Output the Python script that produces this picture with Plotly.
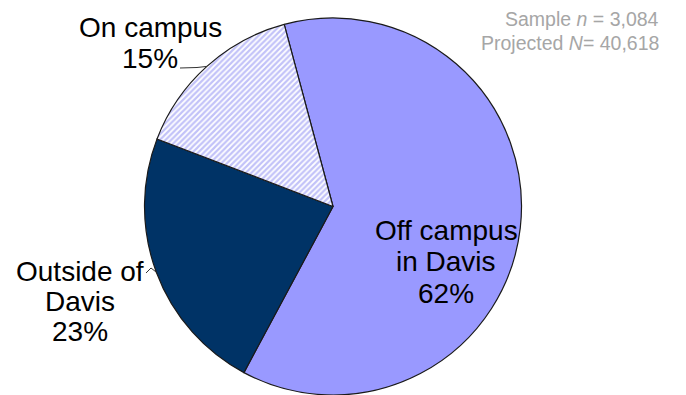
import math
import plotly.graph_objects as go

# Where students live
labels = ["Off campus\nin Davis", "Outside of\nDavis", "On campus"]
values = [62, 23, 15]
colors = ["#9999FF", "#003366", "#FFFFFF"]
patterns = ["", "", "/"]
sample_n = "3,084"
projected_N = "40,618"

W, H = 686, 395
CX, CY, R = 333.0, 206.5, 188.5  # pie centre / radius in px
START = -15.0                     # first slice edge, degrees clockwise from 12 o'clock
FONT = "Liberation Sans, Arial, sans-serif"
FS = 28


def px(x):
    return x / W


def py(y):
    return 1 - y / H


fig = go.Figure(
    go.Pie(
        labels=[l.replace("\n", " ") for l in labels],
        values=values,
        sort=False,
        direction="clockwise",
        rotation=START,
        textinfo="none",
        hoverinfo="label+percent",
        marker=dict(
            colors=colors,
            line=dict(color="#1a1a1a", width=1.2),
            pattern=dict(shape=patterns, fgcolor="#8585F2", bgcolor="#FFFFFF",
                         size=4, solidity=0.55, fillmode="overlay"),
        ),
        domain=dict(x=[px(CX - R), px(CX + R)], y=[0, py(CY - R)]),
        showlegend=False,
    )
)

total = sum(values)
pct = [f"{round(100 * v / total)}%" for v in values]

# mid-angle of each slice (degrees clockwise from top) and its point on the rim
mids, acc = [], START
for v in values:
    span = 360 * v / total
    mids.append(acc + span / 2)
    acc += span
rim = [(CX + R * math.sin(math.radians(a)), CY - R * math.cos(math.radians(a))) for a in mids]

annotations = []


def add_lines(lines, x, y0, step):
    for k, t in enumerate(lines):
        annotations.append(dict(
            x=px(x), y=py(y0 + k * step), xref="paper", yref="paper",
            text=t, showarrow=False, xanchor="center", yanchor="middle",
            font=dict(family=FONT, size=FS, color="#000000"),
        ))


add_lines(labels[0].split("\n") + [pct[0]], 446, 230, 31.5)
add_lines(labels[1].split("\n") + [pct[1]], 80, 271, 30)
add_lines(labels[2].split("\n") + [pct[2]], 150, 27, 31)

gray = "#A6A6A6"
annotations.append(dict(
    x=px(661), y=py(19), xref="paper", yref="paper", showarrow=False,
    xanchor="right", yanchor="middle",
    text=f"Sample <i>n</i> = {sample_n}",
    font=dict(family=FONT, size=19.5, color=gray),
))
annotations.append(dict(
    x=px(661), y=py(43), xref="paper", yref="paper", showarrow=False,
    xanchor="right", yanchor="middle",
    text=f"Projected <i>N</i>= {projected_N}",
    font=dict(family=FONT, size=19.5, color=gray),
))

# leader lines from labels to slice rims
def path(points):
    return "M " + " L ".join(f"{px(x)},{py(y)}" for x, y in points)


shapes = [
    dict(type="path", xref="paper", yref="paper",
         path=path([(180, 68), (197, 67.5), rim[2]]),
         line=dict(color="#333333", width=1)),
    dict(type="path", xref="paper", yref="paper",
         path=path([(146, 273), (151, 268), rim[1]]),
         line=dict(color="#333333", width=1)),
]

fig.update_layout(
    width=W, height=H,
    margin=dict(l=0, r=0, t=0, b=0),
    paper_bgcolor="#FFFFFF", plot_bgcolor="#FFFFFF",
    annotations=annotations,
    shapes=shapes,
)

fig.write_html("out.html")
